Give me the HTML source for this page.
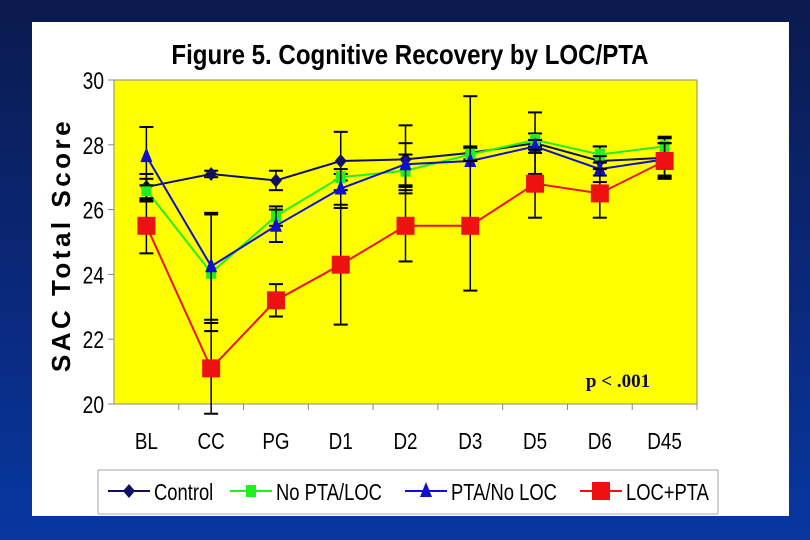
<!DOCTYPE html>
<html><head><meta charset="utf-8"><style>
body{margin:0;width:810px;height:540px;overflow:hidden;background:linear-gradient(#0b1a4e,#0a2a80 60%,#0638a0);font-family:"Liberation Sans",sans-serif}
svg{position:absolute;left:0;top:0}
</style></head><body>
<svg width="810" height="540">
<rect x="32" y="22" width="757" height="494" fill="#fff"/>
<text x="410" y="64" text-anchor="middle" font-size="28" font-weight="bold" transform="translate(410,0) scale(0.86,1) translate(-410,0)">Figure 5. Cognitive Recovery by LOC/PTA</text>
<rect x="114" y="80" width="583" height="324" fill="#ffff00" stroke="#888"/>
<text x="70" y="245" text-anchor="middle" font-size="26" font-weight="bold" letter-spacing="3.5" transform="rotate(-90 70 245)">SAC Total Score</text>
<text x="618" y="387" text-anchor="middle" font-size="19" font-weight="bold" font-family="Liberation Serif,serif" fill="#0a0a40">p &lt; .001</text>
<g id="axes"></g><g id="marks"></g>
<rect x="98" y="470" width="620" height="44" fill="#fff" stroke="#aaa"/>
<g id="legend"></g>
</svg>
<script>
const categories=["BL","CC","PG","D1","D2","D3","D5","D6","D45"];
const yTicks=[20,22,24,26,28,30];
const seriesNames=["Control","No PTA/LOC","PTA/No LOC","LOC+PTA"];
const control=[26.7,27.1,26.9,27.5,27.55,27.75,28.05,27.5,27.6];
const noPta=[26.6,24.05,25.8,27.0,27.2,27.7,28.15,27.7,27.95];
const ptaNoLoc=[27.65,24.25,25.5,26.65,27.4,27.5,27.95,27.25,27.55];
const locPta=[25.5,21.1,23.2,24.3,25.5,25.5,26.8,26.5,27.5];
const errControl=[0.4,0.1,0.3,0.9,1.05,0.2,0.95,0.45,0.6];
const errNoPta=[0.35,1.8,0.3,0.1,0.5,0.2,0.2,0.25,0.3];
const errPtaNoLoc=[0.9,1.65,0.5,0.6,0.65,2.0,0.2,0.4,0.5];
const errLocPta=[0.85,1.4,0.5,1.85,1.1,2.0,1.05,0.75,0.55];
const X0=114,X1=697,Y0=404,Y1=80;
const xs=i=>X0+(X1-X0)/categories.length*(i+0.5);
const ys=v=>Y0-(v-20)/10*(Y0-Y1);
const NS="http://www.w3.org/2000/svg";
function mk(p,t,a){const e=document.createElementNS(NS,t);for(const k in a)e.setAttribute(k,a[k]);p.appendChild(e);return e;}
const axes=document.getElementById('axes'),marks=document.getElementById('marks'),leg=document.getElementById('legend');
mk(axes,'line',{x1:X0,y1:Y0,x2:X0,y2:Y1,stroke:'#888'});
yTicks.forEach(t=>{const y=ys(t);mk(axes,'line',{x1:X0-6,y1:y,x2:X0,y2:y,stroke:'#888'});
const tx=mk(axes,'text',{x:X0-10,y:y+9,'text-anchor':'end','font-size':24,transform:`translate(${X0-10},0) scale(0.8,1) translate(${-(X0-10)},0)`});tx.textContent=t;

});
categories.forEach((c,i)=>{const xl=X0+(X1-X0)/categories.length*(i+1);mk(axes,'line',{x1:xl,y1:Y0,x2:xl,y2:Y0+6,stroke:'#888'});
const tx=mk(axes,'text',{x:xs(i),y:449,'text-anchor':'middle','font-size':23,transform:`translate(${xs(i)},0) scale(0.82,1) translate(${-xs(i)},0)`});tx.textContent=c;

});
const series=[[control,errControl,'#101060','diamond'],[noPta,errNoPta,'#22ee22','square'],[ptaNoLoc,errPtaNoLoc,'#1010cc','triangle'],[locPta,errLocPta,'#ee1111','bigsquare']];
function marker(g,shape,x,y,col){
 if(shape==='diamond')return mk(g,'polygon',{points:`${x},${y-7} ${x+6},${y} ${x},${y+7} ${x-6},${y}`,fill:col});
 if(shape==='square')return mk(g,'rect',{x:x-5,y:y-6,width:10,height:12,fill:col});
 if(shape==='triangle')return mk(g,'polygon',{points:`${x},${y-9} ${x+6},${y+6} ${x-6},${y+6}`,fill:col});
 return mk(g,'rect',{x:x-9,y:y-9,width:18,height:18,fill:col});}
series.forEach(([vals,errs,col,shape],si)=>{const g=mk(marks,'g',{});
 
 
 vals.forEach((v,i)=>{const x=xs(i);const l=mk(g,'line',{x1:x,x2:x,y1:ys(v-errs[i]),y2:ys(v+errs[i]),stroke:'#000','stroke-width':1.5});
  
  
  [v-errs[i],v+errs[i]].forEach(e=>mk(g,'line',{x1:x-7,x2:x+7,y1:ys(e),y2:ys(e),stroke:'#000','stroke-width':2}));});
 const pl=mk(g,'polyline',{points:vals.map((v,i)=>xs(i)+','+ys(v)).join(' '),fill:'none',stroke:col,'stroke-width':2});
 
 
 vals.forEach((v,i)=>{const m=marker(g,shape,xs(i),ys(v),col);
  
  });
});
const lx=[108,230,405,580];
seriesNames.forEach((n,i)=>{const col=series[i][2],x=lx[i],y=491;
 const g=mk(leg,'g',{});
 
 
 mk(g,'line',{x1:x,x2:x+42,y1:y,y2:y,stroke:col,'stroke-width':2});marker(g,series[i][3],x+21,y,col);
 const t=mk(g,'text',{x:x+46,y:y+9,'font-size':23,transform:`translate(${x+46},0) scale(0.8,1) translate(${-(x+46)},0)`});t.textContent=n;});
</script>
</body></html>
